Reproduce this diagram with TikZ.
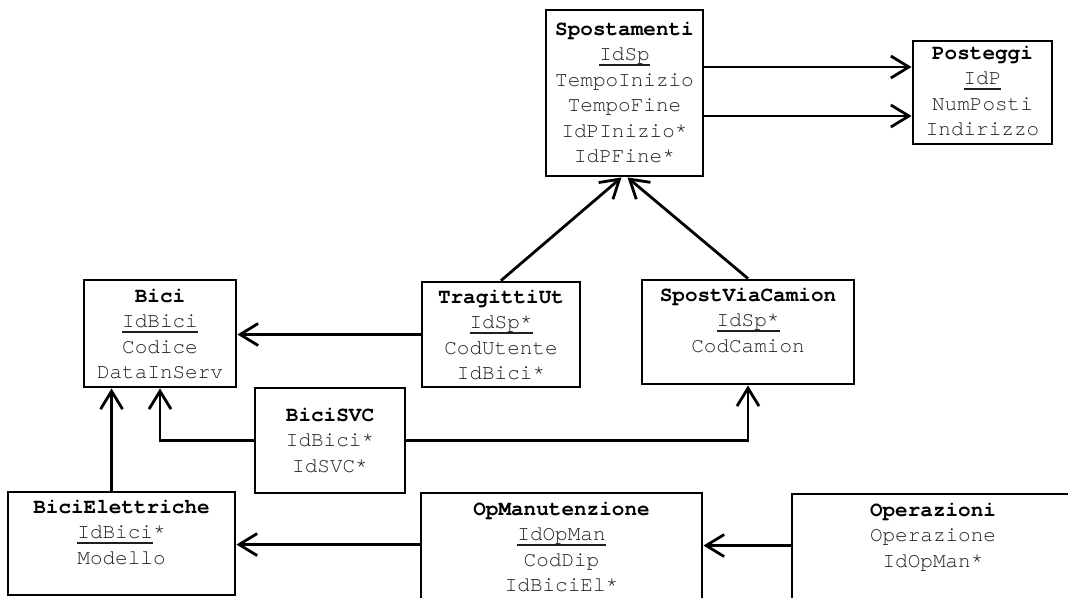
\documentclass[tikz,border=0pt]{standalone}
\usepackage{fontspec}
\setmainfont{TeX Gyre Cursor}
\usetikzlibrary{arrows.meta}
\newcommand\keyul[1]{\setbox0\hbox{#1}\rlap{\rule[-5.5pt]{\wd0}{1.6pt}}\box0}
\newcommand\ttl[1]{{\color{black}\bfseries #1}}
\tikzset{
  box/.style={draw=black, line width=2.9pt, inner sep=0pt, fill=white},
  txt/.style={anchor=north, align=center, inner sep=0pt, text=black!88,
    font=\fontsize{21}{25.5}\selectfont},
  arr/.style={line width=2.8pt, -{Straight Barb[length=18pt,width=22pt,line width=2.8pt]}},
}
\begin{document}
\begin{tikzpicture}[x=1pt,y=-1pt]
\useasboundingbox (0,0) rectangle (1068,597);
% boxes
\node[box, minimum width=157pt, minimum height=166pt] (sp) at (624.5,93) {};
\node[box, minimum width=139pt, minimum height=103pt] (po) at (982.5,92.5) {};
\node[box, minimum width=152pt, minimum height=107pt] (bici) at (160,333.5) {};
\node[box, minimum width=158pt, minimum height=105pt] (tu) at (501,334.5) {};
\node[box, minimum width=212pt, minimum height=104pt] (sv) at (748,332) {};
\node[box, minimum width=150pt, minimum height=105pt] (bsvc) at (330,440.5) {};
\node[box, minimum width=227pt, minimum height=103pt] (be) at (121.5,543.5) {};
\node[box, minimum width=281pt, minimum height=130pt] (om) at (561.5,558) {};
\node[box, minimum width=282pt, minimum height=130pt] (opz) at (933,559) {};
% texts
\node[txt] (tsp) at (624.5,17) {\strut\ttl{Spostamenti}\\\strut\keyul{IdSp}\\\strut TempoInizio\\\strut TempoFine\\\strut IdPInizio*\\\strut IdPFine*};
\node[txt] (tpo) at (982.5,41) {\strut\ttl{Posteggi}\\\strut\keyul{IdP}\\\strut NumPosti\\\strut Indirizzo};
\node[txt] (tbici) at (160,284) {\strut\ttl{Bici}\\\strut\keyul{IdBici}\\\strut Codice\\\strut DataInServ};
\node[txt] (ttu) at (501,285) {\strut\ttl{TragittiUt}\\\strut\keyul{IdSp*}\\\strut CodUtente\\\strut IdBici*};
\node[txt] (tsv) at (748,283) {\strut\ttl{SpostViaCamion}\\\strut\keyul{IdSp*}\\\strut CodCamion};
\node[txt] (tbsvc) at (330,403) {\strut\ttl{BiciSVC}\\\strut IdBici*\\\strut IdSVC*};
\node[txt] (tbe) at (121.5,495) {\strut\ttl{BiciElettriche}\\\strut\keyul{IdBici}*\\\strut Modello};
\node[txt] (tom) at (561.5,497) {\strut\ttl{OpManutenzione}\\\strut\keyul{IdOpMan}\\\strut CodDip\\\strut IdBiciEl*};
\node[txt] (topz) at (933,498) {\strut\ttl{Operazioni}\\\strut Operazione\\\strut IdOpMan*};
% connectors
\coordinate (a1) at (703,67);
\coordinate (a2) at (703,116);
\draw[arr] (a1) -- (a1 -| po.west);
\draw[arr] (a2) -- (a2 -| po.west);
\draw[arr] (tu.north) -- ([xshift=-3pt]sp.south);
\draw[arr] (sv.north) -- ([xshift=3pt]sp.south);
\draw[arr] (tu.west) -- (tu.west -| bici.east);
\draw[arr] (bsvc.west) -| (bici.south);
\draw[arr] (bsvc.east) -| (sv.south);
\coordinate (b1) at ([xshift=105pt]be.north west);
\draw[arr] (b1) -- (b1 |- bici.south);
\coordinate (c1) at ([yshift=-53pt]om.north west);
\draw[arr] (c1) -- (c1 -| be.east);
\coordinate (c2) at ([yshift=-53pt]opz.north west);
\draw[arr] (c2) -- (c2 -| om.east);
\end{tikzpicture}
\end{document}
